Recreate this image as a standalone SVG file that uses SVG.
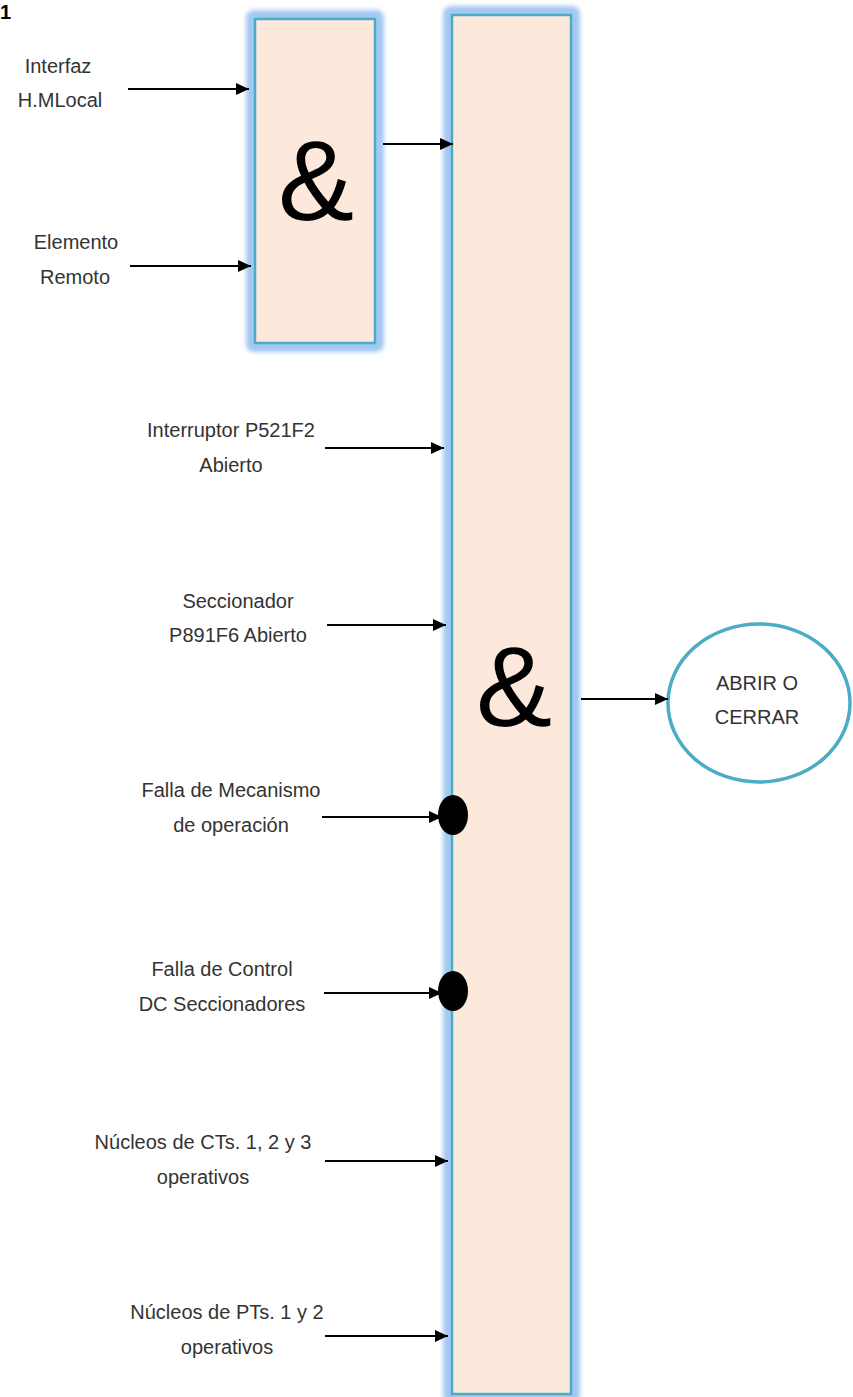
<svg xmlns="http://www.w3.org/2000/svg" width="853" height="1397" viewBox="0 0 853 1397">
<defs>
<marker id="ah" markerWidth="13" markerHeight="12" refX="13" refY="6" orient="auto" markerUnits="userSpaceOnUse">
<path d="M0,0 L13,6 L0,12 Z" fill="#000"/>
</marker>
<filter id="glow" x="-20%" y="-5%" width="140%" height="110%">
<feGaussianBlur stdDeviation="2"/>
</filter>
</defs>
<style>
.lbl{font-family:"Liberation Sans",Arial,sans-serif;font-size:20px;fill:#333;text-anchor:middle}
.amp{font-family:"Liberation Sans",Arial,sans-serif;fill:#000;text-anchor:middle}
.halo{fill:#a3c8f2;stroke:none}
.box{fill:#fde9db;stroke:#4bacc6;stroke-width:2.5}
.wire{stroke:#000;stroke-width:2.2;fill:none;marker-end:url(#ah)}
</style>
<rect width="853" height="1397" fill="#fff"/>
<text x="0" y="19" style="font-family:'Liberation Sans',Arial,sans-serif;font-size:20px;font-weight:bold" fill="#000">1</text>

<g id="and1">
<rect class="halo" x="246" y="10" width="138" height="342" rx="8" filter="url(#glow)"/>
<rect class="box" x="255" y="19" width="120" height="324"/>
<text class="amp" x="316" y="220" font-size="114">&amp;</text>
</g>

<g id="and2">
<rect class="halo" x="443" y="6" width="137" height="1397" rx="8" filter="url(#glow)"/>
<rect class="box" x="452" y="15" width="119" height="1379"/>
<text class="amp" x="514" y="726" font-size="114">&amp;</text>
</g>

<g id="output">
<ellipse cx="759" cy="703" rx="91" ry="79" fill="#fff" stroke="#4bacc6" stroke-width="3.5"/>
<text class="lbl" x="757" y="690">ABRIR O</text>
<text class="lbl" x="757" y="724">CERRAR</text>
</g>

<g id="labels">
<g id="in-interfaz"><text class="lbl" x="58" y="73">Interfaz</text><text class="lbl" x="60" y="107">H.MLocal</text></g>
<g id="in-elemento"><text class="lbl" x="76" y="249">Elemento</text><text class="lbl" x="75" y="284">Remoto</text></g>
<g id="in-interruptor"><text class="lbl" x="231" y="437">Interruptor P521F2</text><text class="lbl" x="231" y="472">Abierto</text></g>
<g id="in-seccionador"><text class="lbl" x="238" y="608">Seccionador</text><text class="lbl" x="238" y="642">P891F6 Abierto</text></g>
<g id="in-mecanismo"><text class="lbl" x="231" y="797">Falla de Mecanismo</text><text class="lbl" x="231" y="832">de operación</text></g>
<g id="in-control"><text class="lbl" x="222" y="976">Falla de Control</text><text class="lbl" x="222" y="1011">DC Seccionadores</text></g>
<g id="in-cts"><text class="lbl" x="203" y="1149">Núcleos de CTs. 1, 2 y 3</text><text class="lbl" x="203" y="1184">operativos</text></g>
<g id="in-pts"><text class="lbl" x="227" y="1319">Núcleos de PTs. 1 y 2</text><text class="lbl" x="227" y="1354">operativos</text></g>
</g>

<g id="connectors">
<line class="wire" x1="128" y1="89" x2="249" y2="89"/>
<line class="wire" x1="130" y1="266" x2="251" y2="266"/>
<line class="wire" x1="383" y1="144" x2="453" y2="144"/>
<line class="wire" x1="325" y1="448" x2="444" y2="448"/>
<line class="wire" x1="327" y1="625" x2="446" y2="625"/>
<line class="wire" x1="322" y1="817" x2="442" y2="817"/>
<line class="wire" x1="324" y1="993" x2="442" y2="993"/>
<line class="wire" x1="325" y1="1161" x2="448" y2="1161"/>
<line class="wire" x1="325" y1="1336" x2="448" y2="1336"/>
<line class="wire" x1="581" y1="699" x2="668" y2="699"/>
<ellipse cx="453" cy="815" rx="15" ry="20" fill="#000"/>
<ellipse cx="453" cy="991" rx="15" ry="20" fill="#000"/>
</g>
</svg>
